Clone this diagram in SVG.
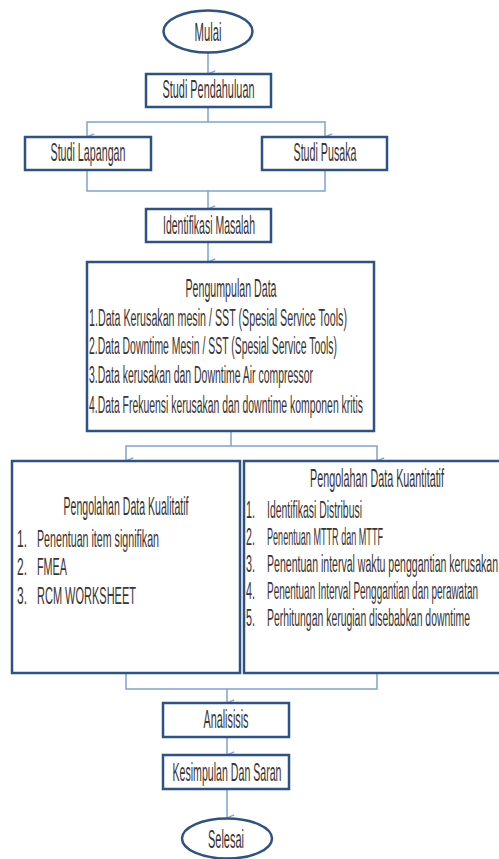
<svg xmlns="http://www.w3.org/2000/svg" width="499" height="859" viewBox="0 0 499 859">
<style>
.box{fill:#fff;stroke:#2f5285;stroke-width:2.5}
.con{fill:none;stroke:#7ea2d3;stroke-width:1.5}
text{font-family:"Liberation Sans",Arial,sans-serif;font-size:25px;fill:#3a3434}
.c{text-anchor:middle}
.s{font-size:23px}
</style>
<defs>
<marker id="arr" viewBox="0 0 10 10" refX="5" refY="10" markerWidth="8" markerHeight="8" markerUnits="userSpaceOnUse" orient="auto-start-reverse">
<path d="M1,1 L5,10 L9,1" fill="none" stroke="#7ea2d3" stroke-width="1.6"/>
</marker>
</defs>
<rect width="499" height="859" fill="#fff"/>
<g id="connectors">
<path class="con" d="M208,53 V74" marker-end="url(#arr)"/>
<path class="con" d="M208,107 V122"/>
<path class="con" d="M87,137 V122 H325 V137" marker-start="url(#arr)" marker-end="url(#arr)"/>
<path class="con" d="M87,170 V191 H325 V170"/>
<path class="con" d="M208,191 V209" marker-end="url(#arr)"/>
<path class="con" d="M208,242 V262" marker-end="url(#arr)"/>
<path class="con" d="M231,431 V446"/>
<path class="con" d="M126,461 V446 H377 V461" marker-start="url(#arr)" marker-end="url(#arr)"/>
<path class="con" d="M126,673 V689 H377 V673"/>
<path class="con" d="M227,689 V703" marker-end="url(#arr)"/>
<path class="con" d="M227,737 V755" marker-end="url(#arr)"/>
<path class="con" d="M227,789 V818" marker-end="url(#arr)"/>
</g>
<g id="mulai">
<ellipse class="box" cx="208" cy="31.5" rx="44.5" ry="21"/>
<text class="c" x="208" y="41" textLength="27" lengthAdjust="spacingAndGlyphs">Mulai</text>
</g>
<g id="studi-pendahuluan">
<rect class="box" x="146" y="74" width="125" height="33"/>
<text class="c" x="208.5" y="98" textLength="92" lengthAdjust="spacingAndGlyphs">Studi Pendahuluan</text>
</g>
<g id="studi-lapangan">
<rect class="box" x="25" y="137" width="126" height="33"/>
<text class="c" x="88" y="161" textLength="75" lengthAdjust="spacingAndGlyphs">Studi Lapangan</text>
</g>
<g id="studi-pusaka">
<rect class="box" x="262" y="137" width="125" height="33"/>
<text class="c" x="325" y="161" textLength="63" lengthAdjust="spacingAndGlyphs">Studi Pusaka</text>
</g>
<g id="identifikasi-masalah">
<rect class="box" x="146" y="209" width="125" height="33"/>
<text class="c" x="209" y="234" textLength="92" lengthAdjust="spacingAndGlyphs">Identifikasi Masalah</text>
</g>
<g id="pengumpulan-data">
<rect class="box" x="87" y="262" width="287" height="169"/>
<text class="c" x="231" y="297" textLength="91" lengthAdjust="spacingAndGlyphs">Pengumpulan Data</text>
<text class="s" x="89" y="326" textLength="258" lengthAdjust="spacingAndGlyphs">1.Data Kerusakan mesin  /  SST (Spesial Service Tools)</text>
<text class="s" x="89" y="354" textLength="248" lengthAdjust="spacingAndGlyphs">2.Data Downtime Mesin / SST (Spesial Service Tools)</text>
<text class="s" x="89" y="383" textLength="224" lengthAdjust="spacingAndGlyphs">3.Data kerusakan dan Downtime Air compressor</text>
<text class="s" x="89" y="413" textLength="274" lengthAdjust="spacingAndGlyphs">4.Data Frekuensi kerusakan dan downtime komponen kritis</text>
</g>
<g id="pengolahan-kualitatif">
<rect class="box" x="12" y="461" width="228" height="212"/>
<text class="c" x="126" y="515" textLength="125" lengthAdjust="spacingAndGlyphs">Pengolahan Data Kualitatif</text>
<text class="s" x="17" y="547" textLength="10" lengthAdjust="spacingAndGlyphs">1.</text>
<text class="s" x="37" y="547" textLength="122" lengthAdjust="spacingAndGlyphs">Penentuan item signifikan</text>
<text class="s" x="17" y="575" textLength="10" lengthAdjust="spacingAndGlyphs">2.</text>
<text class="s" x="37" y="575" textLength="30" lengthAdjust="spacingAndGlyphs">FMEA</text>
<text class="s" x="17" y="604" textLength="10" lengthAdjust="spacingAndGlyphs">3.</text>
<text class="s" x="37" y="604" textLength="99" lengthAdjust="spacingAndGlyphs">RCM WORKSHEET</text>
</g>
<g id="pengolahan-kuantitatif">
<rect class="box" x="244" y="461" width="262" height="212"/>
<text class="c" x="377" y="487" textLength="134" lengthAdjust="spacingAndGlyphs">Pengolahan Data Kuantitatif</text>
<text class="s" x="246" y="518" textLength="9" lengthAdjust="spacingAndGlyphs">1.</text>
<text class="s" x="267" y="518" textLength="95" lengthAdjust="spacingAndGlyphs">Identifikasi Distribusi</text>
<text class="s" x="246" y="545" textLength="9" lengthAdjust="spacingAndGlyphs">2.</text>
<text class="s" x="267" y="545" textLength="116" lengthAdjust="spacingAndGlyphs">Penentuan MTTR dan MTTF</text>
<text class="s" x="246" y="572" textLength="9" lengthAdjust="spacingAndGlyphs">3.</text>
<text class="s" x="267" y="572" textLength="231" lengthAdjust="spacingAndGlyphs">Penentuan interval  waktu penggantian kerusakan</text>
<text class="s" x="246" y="599" textLength="9" lengthAdjust="spacingAndGlyphs">4.</text>
<text class="s" x="267" y="599" textLength="211" lengthAdjust="spacingAndGlyphs">Penentuan Interval Penggantian dan perawatan</text>
<text class="s" x="246" y="626" textLength="9" lengthAdjust="spacingAndGlyphs">5.</text>
<text class="s" x="267" y="626" textLength="203" lengthAdjust="spacingAndGlyphs">Perhitungan kerugian disebabkan downtime</text>
</g>
<g id="analisisis">
<rect class="box" x="163" y="703" width="126" height="34"/>
<text class="c" x="226" y="728" textLength="45" lengthAdjust="spacingAndGlyphs">Analisisis</text>
</g>
<g id="kesimpulan">
<rect class="box" x="163" y="755" width="126" height="34"/>
<text class="c" x="227" y="781" textLength="109" lengthAdjust="spacingAndGlyphs">Kesimpulan Dan Saran</text>
</g>
<g id="selesai">
<ellipse class="box" cx="227" cy="838.5" rx="45" ry="20"/>
<text class="c" x="226" y="848" textLength="36" lengthAdjust="spacingAndGlyphs">Selesai</text>
</g>
</svg>
